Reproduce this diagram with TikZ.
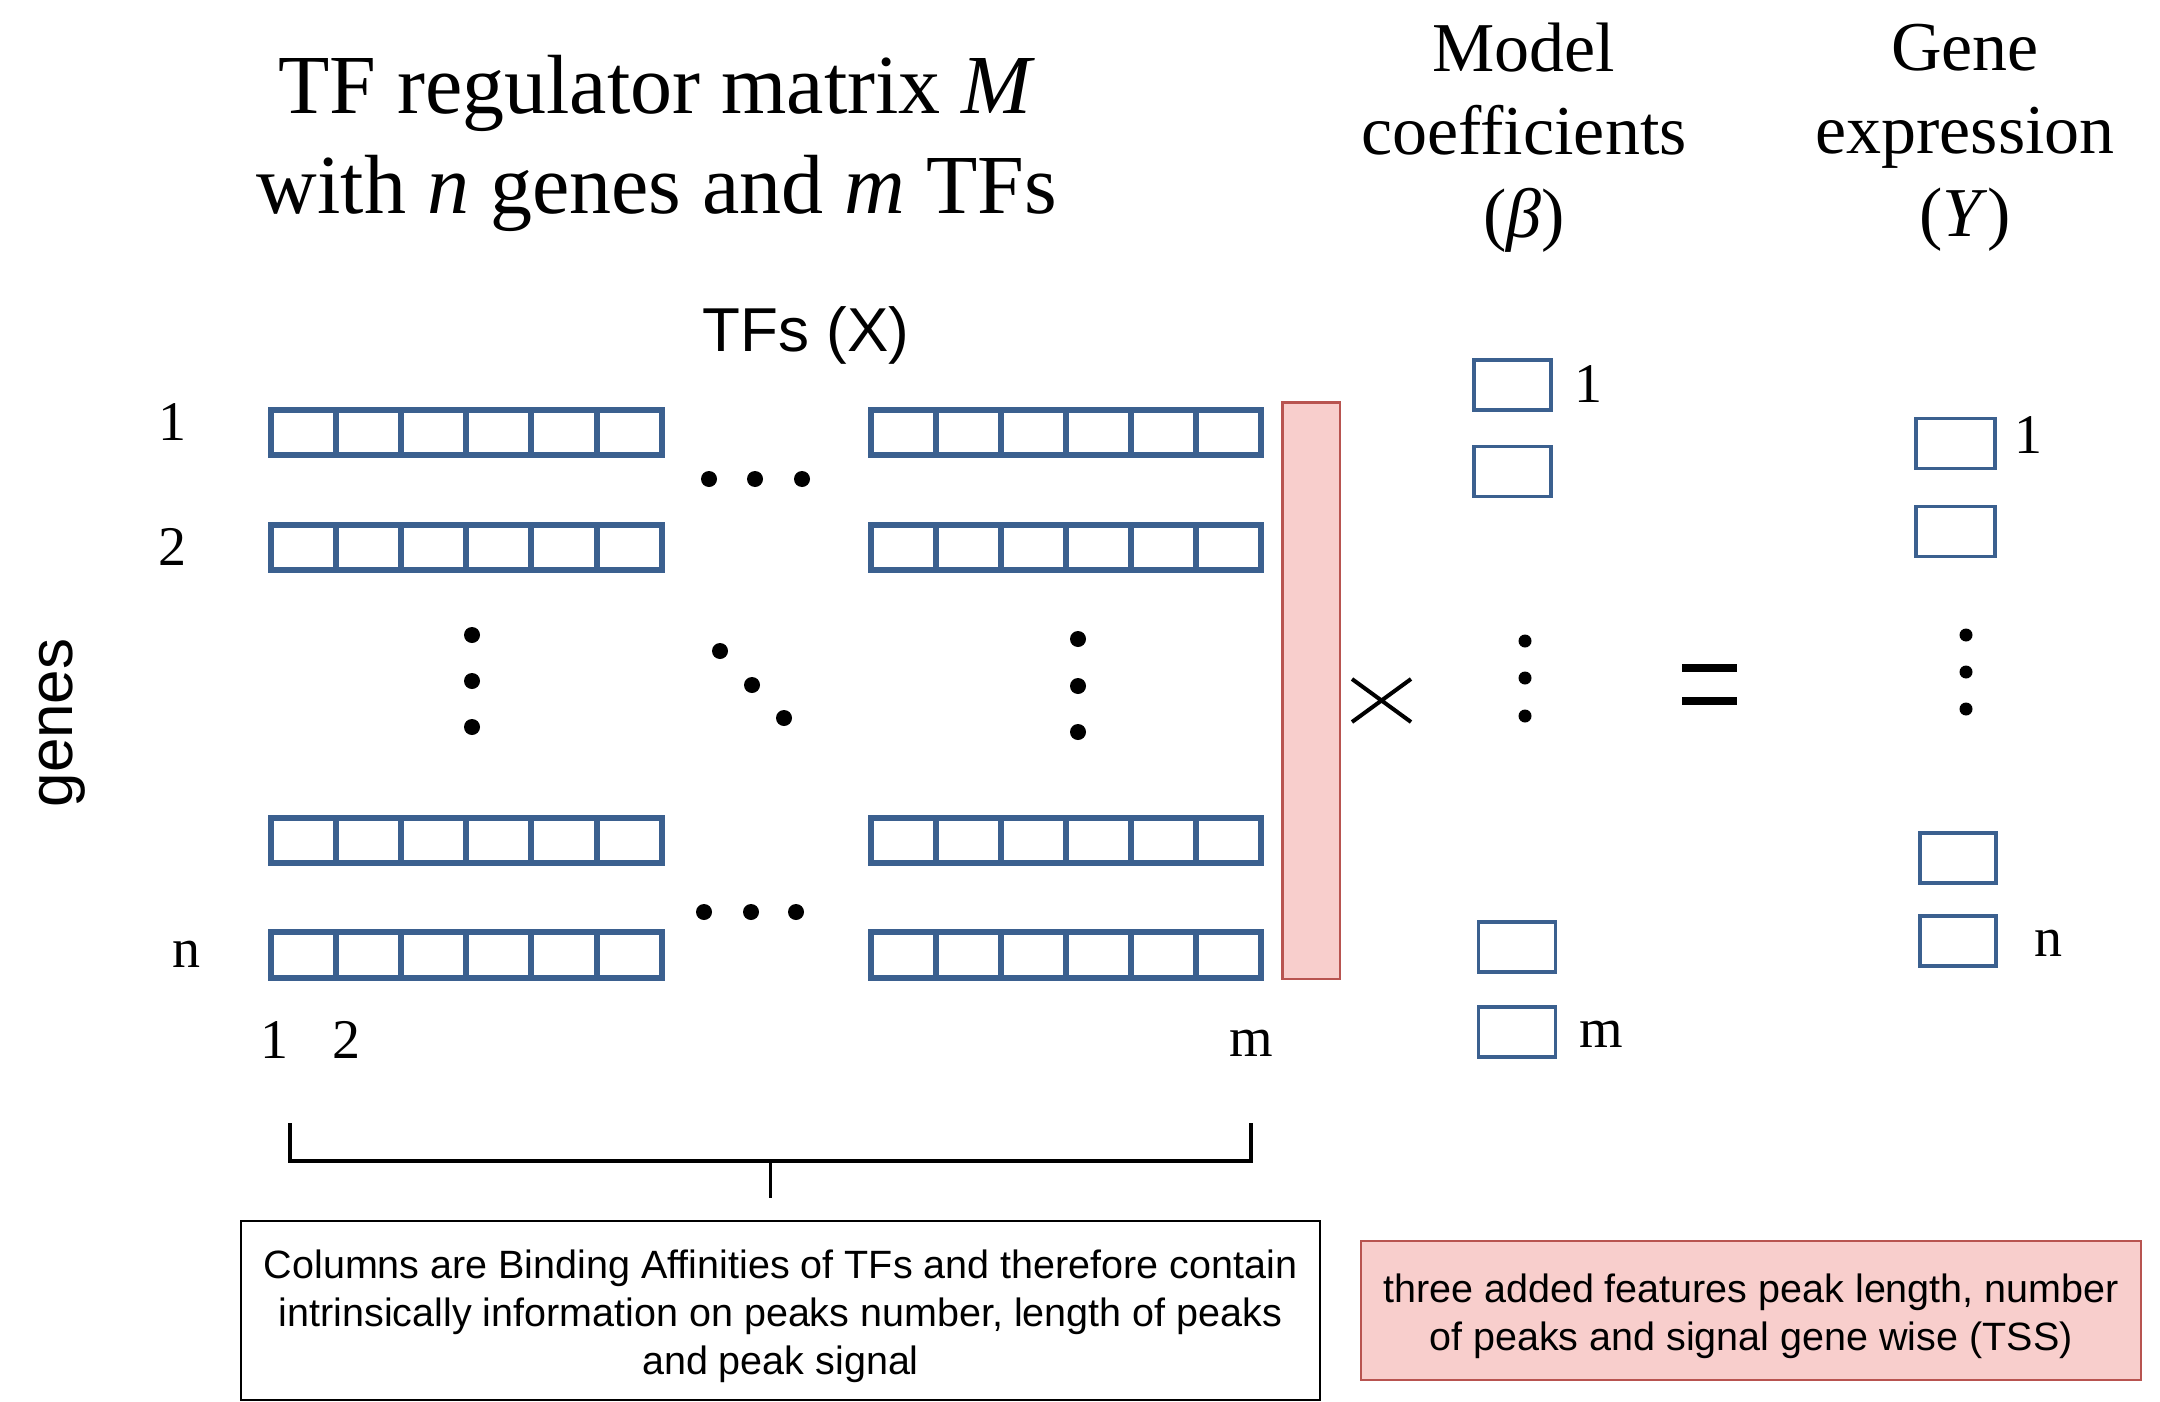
\documentclass[tikz,border=0pt]{standalone}
\usepackage{fontspec}
\setmainfont{Liberation Serif}
\setsansfont{Liberation Sans}
\definecolor{cellblue}{RGB}{59,96,143}
\definecolor{pinkfill}{RGB}{248,206,204}
\definecolor{pinkdraw}{RGB}{184,84,80}
\begin{document}
\begin{tikzpicture}[x=1pt,y=-1pt,
  cell/.style={draw=cellblue, line width=6pt, minimum width=65.2pt, minimum height=45.5pt, inner sep=0pt, outer sep=0pt},
  vecbox/.style={draw=cellblue, line width=3.5pt, minimum width=77pt, minimum height=50pt, inner sep=0pt},
  serifbig/.style={font=\fontsize{84}{100}\selectfont, align=center, inner sep=0pt},
  serifmid/.style={font=\fontsize{70}{83}\selectfont, align=center, inner sep=0pt},
  idx/.style={font=\fontsize{56}{60}\selectfont, anchor=base, inner sep=0pt},
  sanslabel/.style={font=\sffamily\fontsize{62}{70}\selectfont, inner sep=0pt},
  note/.style={font=\sffamily\fontsize{39.5}{48}\selectfont, align=center, inner sep=0pt},
  dotm/.style={fill=black},
  brk/.style={line width=4pt}
]
\useasboundingbox (0,0) rectangle (2160,1402);

% titles
\node[serifbig] (title) at (657,143) {TF regulator matrix \textit{M}\\with \textit{n} genes and \textit{m} TFs};
\node[serifmid] (beta) at (1524,138) {Model\\coefficients\\(\textit{β})};
\node[serifmid] (yexp) at (1965,138) {Gene\\expression\\(\textit{Y})};
\node[sanslabel, anchor=base] (tfs) at (806,351) {TFs (X)};
\node[sanslabel, rotate=90] (genes) at (62,723) {genes};

% matrix rows
\foreach \r/\y in {1/432.5, 2/547.5, 3/840.5, 4/955} {
  \foreach \i in {1,...,6} {
    \node[cell] (L\r-\i) at ({270.5+65.2*(\i-0.5)},\y) {};
    \node[cell, minimum width=65pt] (R\r-\i) at ({870.5+65*(\i-0.5)},\y) {};
  }
}

% row and column labels
\node[idx] (row1) at (172,440) {1};
\node[idx] (row2) at (172,565) {2};
\node[idx] (rown) at (186,967) {n};
\node[idx] (col1) at (274,1058) {1};
\node[idx] (col2) at (346,1058) {2};
\node[idx] (colm) at (1251,1056) {m};

% dots in the matrix
\foreach \x/\y in {709/479, 755/479, 802/479, 704/912, 751/912, 796/912,
                   472/635, 472/681, 472/727, 720/651, 752/685, 784/718,
                   1078/639, 1078/686, 1078/732}
  \fill[dotm] (\x,\y) circle (8);

% pink column
\node[draw=pinkdraw, fill=pinkfill, line width=2.5pt, minimum width=57.5pt, minimum height=576.5pt, inner sep=0pt] (extra) at (1311,690.5) {};

% times sign
\draw[line width=4pt] (1352,679) -- (1411,722) (1352,722) -- (1411,679);

% beta vector
\node[vecbox] (b1) at (1512.5,385) {};
\node[vecbox] (b2) at (1512.5,471.5) {};
\node[vecbox] (b3) at (1517,947) {};
\node[vecbox] (b4) at (1517,1032) {};
\foreach \y in {641,678,716} \fill[dotm] (1525,\y) circle (6.5);
\node[idx] (b1lab) at (1588,402) {1};
\node[idx] (b4lab) at (1601,1047) {m};

% equals sign
\draw[line width=8pt] (1682,668) -- (1737,668) (1682,701) -- (1737,701);

% Y vector
\node[vecbox, minimum width=79pt] (y1) at (1955.5,443.5) {};
\node[vecbox, minimum width=79pt] (y2) at (1955.5,531.5) {};
\node[vecbox, minimum width=76pt] (y3) at (1958,858) {};
\node[vecbox, minimum width=76pt] (y4) at (1958,941) {};
\foreach \y in {635,672,709} \fill[dotm] (1966,\y) circle (6.5);
\node[idx] (y1lab) at (2028,453) {1};
\node[idx] (y4lab) at (2048,956) {n};

% bracket
\coordinate (bl) at (290,1123);
\coordinate (br) at (1251,1123);
\coordinate (bmid) at (770,1161);
\coordinate (bend) at (770,1198);
\draw[brk] (bl) -- (bl |- bmid) -- (br |- bmid) -- (br);
\draw[line width=3pt] (bmid) -- (bend);

% notes
\node[note, draw=black, line width=2.5pt, minimum width=1079pt, minimum height=179pt] (note1) at (780.5,1310.5)
  {\rule{0pt}{40pt}Columns are Binding Affinities of TFs and therefore contain\\intrinsically information on peaks number, length of peaks\\and peak signal};
\node[note, draw=pinkdraw, fill=pinkfill, line width=2.5pt, minimum width=780pt, minimum height=139pt] (note2) at (1751,1310.5)
  {\rule{0pt}{40pt}three added features peak length, number\\of peaks and signal gene wise (TSS)};
\end{tikzpicture}
\end{document}
